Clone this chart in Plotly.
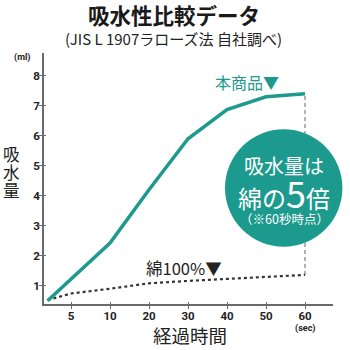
import plotly.graph_objects as go

# ---- data ----
x_tick_values = [0, 5, 10, 20, 30, 40, 50, 60]
x_tick_labels = ["", "5", "10", "20", "30", "40", "50", "60"]
y_tick_values = [1, 2, 3, 4, 5, 6, 7, 8]

product_time = [2, 10, 20, 30, 40, 50, 60]
product_ml = [0.5, 2.42, 4.2, 5.9, 6.87, 7.3, 7.4]

cotton_time = [2, 5, 10, 20, 30, 40, 50, 60]
cotton_ml = [0.52, 0.74, 0.9, 1.08, 1.16, 1.22, 1.29, 1.36]

TEAL = "#1d9a8e"
CJK = "Noto Sans CJK JP"
NUM = "Roboto"
AXC = "#6a6a6a"


def pos(t):
    # the x axis puts its ticks evenly: 0,5,10 then every 10
    return t / 5 if t <= 10 else 2 + (t - 10) / 10


px = [pos(t) for t in product_time]
cx = [pos(t) for t in cotton_time]
tickpos = [pos(t) for t in x_tick_values]

fig = go.Figure()

# dashed reference line at 60 sec
fig.add_trace(go.Scatter(x=[pos(60), pos(60)], y=[cotton_ml[-1], product_ml[-1]],
                         mode="lines", line=dict(color="#9a9a9a", width=1.5, dash="4px,3px"),
                         hoverinfo="skip", showlegend=False))
fig.add_trace(go.Scatter(x=cx, y=cotton_ml, mode="lines",
                         line=dict(color="#333333", width=2.2, dash="dot"),
                         showlegend=False))
fig.add_trace(go.Scatter(x=px, y=product_ml, mode="lines",
                         line=dict(color=TEAL, width=3.5),
                         showlegend=False))
# helper trace for the overlay axes (outer half of the crossing ticks)
fig.add_trace(go.Scatter(x=[None], y=[None], xaxis="x2", yaxis="y2", showlegend=False))

xr = [0.3077, 7.718]
yr = [0.39, 8.76]
axfont = dict(family=NUM, size=11.5, color="#222222", weight="bold")

fig.update_layout(
    width=350, height=350,
    margin=dict(l=44, r=17, t=53, b=46),
    paper_bgcolor="white", plot_bgcolor="white",
    xaxis=dict(range=xr, tickvals=tickpos, ticktext=x_tick_labels,
               showgrid=False, zeroline=False, showline=True, linecolor=AXC,
               linewidth=1.5, ticks="inside", ticklen=2.5, tickwidth=1.2, tickcolor=AXC,
               tickfont=axfont),
    yaxis=dict(range=yr, tickvals=y_tick_values,
               showgrid=False, zeroline=False, showline=True, linecolor=AXC,
               linewidth=1.5, ticks="inside", ticklen=2.5, tickwidth=1.2, tickcolor=AXC,
               tickfont=axfont),
    xaxis2=dict(range=xr, overlaying="x", tickvals=tickpos[1:], showticklabels=False,
                showgrid=False, zeroline=False, showline=False, ticks="outside",
                ticklen=4, tickwidth=1.2, tickcolor=AXC, anchor="y2", side="bottom"),
    yaxis2=dict(range=yr, overlaying="y", tickvals=y_tick_values, showticklabels=False,
                showgrid=False, zeroline=False, showline=False, ticks="outside",
                ticklen=4, tickwidth=1.2, tickcolor=AXC, anchor="x2", side="left"),
    showlegend=False,
)

# circle badge
fig.add_shape(type="circle", xref="paper", yref="paper",
              x0=0.6263, x1=1.0325, y0=0.2283, y1=0.696,
              fillcolor=TEAL, line=dict(width=0), layer="above")


def py(pixel_y):
    return (304 - pixel_y) / 251


def pxp(pixel_x):
    return (pixel_x - 44) / 289


ann = []


def add(text, x, y, size, color="#222222", family=CJK, xref="paper", yref="paper", **kw):
    f = dict(family=family, size=size, color=color)
    f.update(kw)
    ann.append(dict(text=text, xref=xref, yref=yref, x=x, y=y, xanchor="center",
                    yanchor="middle", showarrow=False, font=f))


add("<b>吸水性比較データ</b>", pxp(174), py(14.5), 21.5, color="#1a1a1a")
add("(JIS L 1907ラローズ法 自社調べ)", pxp(173), py(38.5), 15)
add("(ml)", pxp(22), py(57), 9, family=NUM, weight="bold")
add("(sec)", pos(60), py(328), 9, family=NUM, xref="x", weight="bold")
add("0", 0, 0, 11.5, family=NUM, xref="x", yref="y", weight="bold")
for ch, yy in zip("吸水量", [153.5, 171.5, 189.5]):
    add(ch, pxp(11), py(yy), 16.5)
add("経過時間", pxp(190), py(335), 18.5)
add("本商品▼", pxp(247), py(81.5), 16, color=TEAL)
add("綿100%▼", pxp(184), py(268), 16.5)
add("吸水量は", pxp(284), py(165), 20, color="white")
add("綿の<span style='font-size:36px'>5</span>倍", pxp(284), py(192), 24, color="white")
add("（※60秒時点）", pxp(284), py(218), 12.5, color="white")
fig.update_layout(annotations=ann)

fig.write_html("out.html")
